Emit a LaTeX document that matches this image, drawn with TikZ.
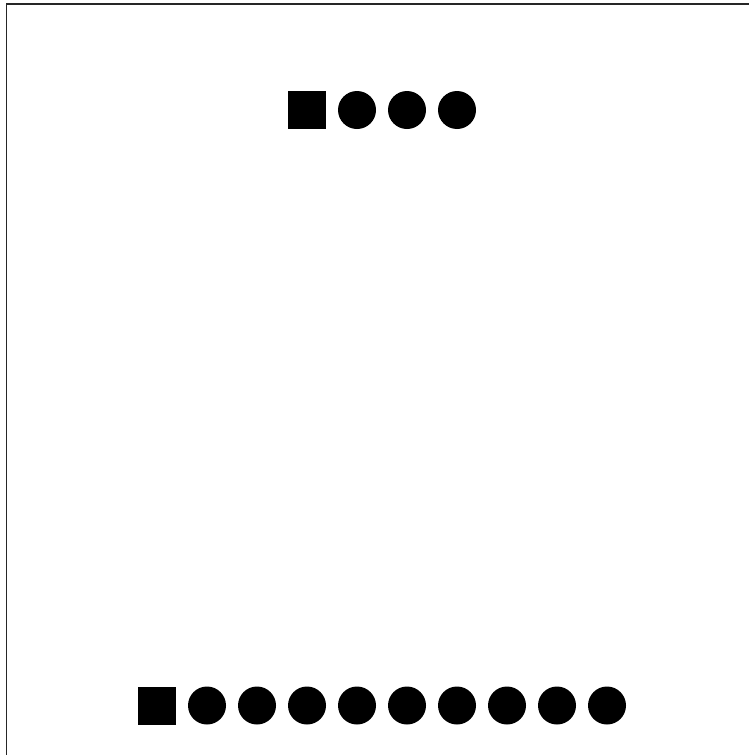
\documentclass[tikz,border=0pt]{standalone}
\begin{document}
\begin{tikzpicture}[x=1pt,y=-1pt,
  sq/.style={fill=black,minimum size=38pt,inner sep=0pt,draw=none,rectangle},
  dot/.style={fill=black,minimum size=38pt,inner sep=0pt,draw=none,circle}]
\useasboundingbox (0,0) rectangle (749,755);
\clip (0,0) rectangle (749,755);
\draw[line width=1.3pt,black!85] (6.5,4) rectangle (800,800);
\node[sq] (t0) at (307,110) {};
\foreach \i in {1,2,3} {\node[dot] (t\i) at (307+50*\i,110) {};}
\node[sq] (b0) at (157,705.5) {};
\foreach \i in {1,...,9} {\node[dot] (b\i) at (157+50*\i,705.5) {};}
\end{tikzpicture}
\end{document}
